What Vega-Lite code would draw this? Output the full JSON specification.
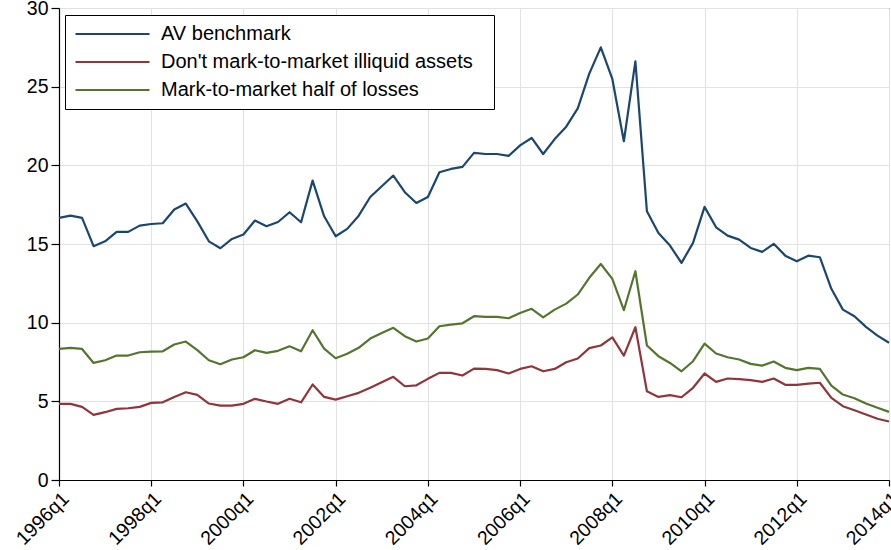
{
  "$schema": "https://vega.github.io/schema/vega-lite/v6.json",
  "width": 830,
  "height": 472,
  "autosize": {"type": "none"},
  "padding": {"left": 59, "top": 8, "right": 2, "bottom": 70},
  "background": "white",
  "config": {
    "font": "Liberation Sans",
    "view": {"stroke": "black", "strokeWidth": 1},
    "axis": {
      "domainColor": "black",
      "domainWidth": 1.2,
      "tickColor": "black",
      "tickWidth": 1.2,
      "gridColor": "#e2e2e2",
      "gridWidth": 1,
      "labelColor": "black",
      "labelFont": "Liberation Sans",
      "labelFontSize": 19.5,
      "labelPadding": 3,
      "title": null
    },
    "legend": {
      "labelFont": "Liberation Sans",
      "labelColor": "black"
    }
  },
  "data": {
    "values": [
      {"t": 1996.00, "a": 16.66, "b": 4.84, "c": 8.33},
      {"t": 1996.25, "a": 16.80, "b": 4.84, "c": 8.40},
      {"t": 1996.50, "a": 16.66, "b": 4.65, "c": 8.33},
      {"t": 1996.75, "a": 14.86, "b": 4.14, "c": 7.44},
      {"t": 1997.00, "a": 15.17, "b": 4.31, "c": 7.61},
      {"t": 1997.25, "a": 15.77, "b": 4.52, "c": 7.91},
      {"t": 1997.50, "a": 15.77, "b": 4.56, "c": 7.91},
      {"t": 1997.75, "a": 16.17, "b": 4.65, "c": 8.12},
      {"t": 1998.00, "a": 16.27, "b": 4.90, "c": 8.16},
      {"t": 1998.25, "a": 16.32, "b": 4.94, "c": 8.18},
      {"t": 1998.50, "a": 17.19, "b": 5.28, "c": 8.61},
      {"t": 1998.75, "a": 17.57, "b": 5.58, "c": 8.80},
      {"t": 1999.00, "a": 16.44, "b": 5.41, "c": 8.25},
      {"t": 1999.25, "a": 15.17, "b": 4.86, "c": 7.61},
      {"t": 1999.50, "a": 14.73, "b": 4.73, "c": 7.36},
      {"t": 1999.75, "a": 15.32, "b": 4.73, "c": 7.66},
      {"t": 2000.00, "a": 15.60, "b": 4.84, "c": 7.80},
      {"t": 2000.25, "a": 16.49, "b": 5.16, "c": 8.25},
      {"t": 2000.50, "a": 16.13, "b": 4.99, "c": 8.08},
      {"t": 2000.75, "a": 16.40, "b": 4.84, "c": 8.21},
      {"t": 2001.00, "a": 17.02, "b": 5.16, "c": 8.50},
      {"t": 2001.25, "a": 16.38, "b": 4.94, "c": 8.18},
      {"t": 2001.50, "a": 19.03, "b": 6.07, "c": 9.52},
      {"t": 2001.75, "a": 16.76, "b": 5.28, "c": 8.35},
      {"t": 2002.00, "a": 15.49, "b": 5.11, "c": 7.74},
      {"t": 2002.25, "a": 15.96, "b": 5.32, "c": 8.02},
      {"t": 2002.50, "a": 16.80, "b": 5.54, "c": 8.40},
      {"t": 2002.75, "a": 17.99, "b": 5.86, "c": 8.99},
      {"t": 2003.00, "a": 18.67, "b": 6.21, "c": 9.35},
      {"t": 2003.25, "a": 19.35, "b": 6.56, "c": 9.67},
      {"t": 2003.50, "a": 18.29, "b": 5.96, "c": 9.14},
      {"t": 2003.75, "a": 17.61, "b": 6.02, "c": 8.80},
      {"t": 2004.00, "a": 17.99, "b": 6.43, "c": 8.99},
      {"t": 2004.25, "a": 19.56, "b": 6.81, "c": 9.77},
      {"t": 2004.50, "a": 19.77, "b": 6.81, "c": 9.88},
      {"t": 2004.75, "a": 19.90, "b": 6.64, "c": 9.96},
      {"t": 2005.00, "a": 20.79, "b": 7.08, "c": 10.41},
      {"t": 2005.25, "a": 20.72, "b": 7.06, "c": 10.37},
      {"t": 2005.50, "a": 20.72, "b": 6.98, "c": 10.37},
      {"t": 2005.75, "a": 20.60, "b": 6.77, "c": 10.28},
      {"t": 2006.00, "a": 21.27, "b": 7.06, "c": 10.62},
      {"t": 2006.25, "a": 21.74, "b": 7.23, "c": 10.88},
      {"t": 2006.50, "a": 20.72, "b": 6.91, "c": 10.34},
      {"t": 2006.75, "a": 21.67, "b": 7.06, "c": 10.83},
      {"t": 2007.00, "a": 22.46, "b": 7.48, "c": 11.21},
      {"t": 2007.25, "a": 23.62, "b": 7.72, "c": 11.79},
      {"t": 2007.50, "a": 25.83, "b": 8.38, "c": 12.85},
      {"t": 2007.75, "a": 27.50, "b": 8.55, "c": 13.73},
      {"t": 2008.00, "a": 25.49, "b": 9.07, "c": 12.78},
      {"t": 2008.25, "a": 21.53, "b": 7.91, "c": 10.79},
      {"t": 2008.50, "a": 26.61, "b": 9.71, "c": 13.27},
      {"t": 2008.75, "a": 17.08, "b": 5.64, "c": 8.55},
      {"t": 2009.00, "a": 15.70, "b": 5.28, "c": 7.87},
      {"t": 2009.25, "a": 14.90, "b": 5.39, "c": 7.44},
      {"t": 2009.50, "a": 13.80, "b": 5.26, "c": 6.91},
      {"t": 2009.75, "a": 15.07, "b": 5.86, "c": 7.55},
      {"t": 2010.00, "a": 17.36, "b": 6.77, "c": 8.67},
      {"t": 2010.25, "a": 16.06, "b": 6.24, "c": 8.04},
      {"t": 2010.50, "a": 15.53, "b": 6.45, "c": 7.80},
      {"t": 2010.75, "a": 15.28, "b": 6.41, "c": 7.66},
      {"t": 2011.00, "a": 14.75, "b": 6.35, "c": 7.38},
      {"t": 2011.25, "a": 14.50, "b": 6.24, "c": 7.27},
      {"t": 2011.50, "a": 15.01, "b": 6.45, "c": 7.53},
      {"t": 2011.75, "a": 14.26, "b": 6.05, "c": 7.13},
      {"t": 2012.00, "a": 13.90, "b": 6.05, "c": 6.98},
      {"t": 2012.25, "a": 14.26, "b": 6.13, "c": 7.13},
      {"t": 2012.50, "a": 14.16, "b": 6.18, "c": 7.06},
      {"t": 2012.75, "a": 12.15, "b": 5.22, "c": 6.00},
      {"t": 2013.00, "a": 10.83, "b": 4.69, "c": 5.43},
      {"t": 2013.25, "a": 10.41, "b": 4.43, "c": 5.20},
      {"t": 2013.50, "a": 9.73, "b": 4.16, "c": 4.86},
      {"t": 2013.75, "a": 9.18, "b": 3.89, "c": 4.59},
      {"t": 2014.00, "a": 8.72, "b": 3.72, "c": 4.33}
    ]
  },
  "transform": [
    {"fold": ["a", "b", "c"], "as": ["s", "v"]}
  ],
  "mark": {"type": "line", "strokeWidth": 2.2, "strokeJoin": "round"},
  "encoding": {
    "x": {
      "field": "t",
      "type": "quantitative",
      "scale": {"domain": [1996, 2014], "nice": false, "zero": false},
      "axis": {
        "values": [1996, 1998, 2000, 2002, 2004, 2006, 2008, 2010, 2012, 2014],
        "labelExpr": "datum.value + 'q1'",
        "labelAngle": -45,
        "labelAlign": "right",
        "labelBaseline": "top",
        "labelFlush": false,
        "labelOverlap": false,
        "tickSize": 6
      }
    },
    "y": {
      "field": "v",
      "type": "quantitative",
      "scale": {"domain": [0, 30], "nice": false},
      "axis": {"values": [0, 5, 10, 15, 20, 25, 30], "labelFlush": false, "tickSize": 8}
    },
    "color": {
      "field": "s",
      "type": "nominal",
      "scale": {"domain": ["a", "b", "c"], "range": ["#1a476f", "#90353b", "#55752f"]},
      "legend": {
        "title": ".",
        "titleOrient": "right",
        "titleColor": "white",
        "titleFontSize": 6,
        "titlePadding": 10,
        "orient": "none",
        "legendX": 6,
        "legendY": 7,
        "direction": "vertical",
        "strokeColor": "black",
        "fillColor": "white",
        "padding": 9,
        "symbolType": "stroke",
        "symbolSize": 5476,
        "symbolStrokeWidth": 2.2,
        "clipHeight": 20,
        "rowPadding": 8,
        "labelFontSize": 20,
        "labelOffset": 10,
        "labelLimit": 500,
        "labelExpr": "datum.value == 'a' ? 'AV benchmark' : datum.value == 'b' ? \"Don't mark-to-market illiquid assets\" : 'Mark-to-market half of losses'"
      }
    }
  }
}
